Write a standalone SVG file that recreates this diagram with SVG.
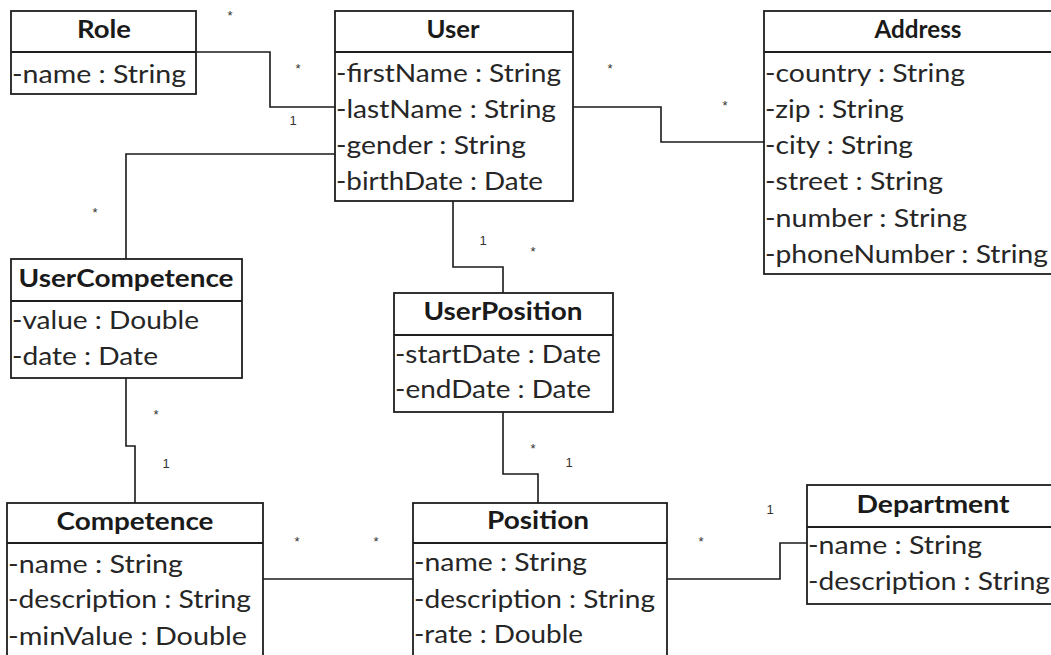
<svg xmlns="http://www.w3.org/2000/svg" width="1051" height="655" viewBox="0 0 1051 655">
  <style>
    .box { fill: #ffffff; stroke: #1e1e1e; stroke-width: 1.8; }
    .sep { stroke: #1e1e1e; stroke-width: 1.8; }
    .title { font-family: Lato, "Open Sans", sans-serif; font-weight: bold; font-size: 25px; fill: #1a1a1a; text-anchor: middle; }
    .attr { font-family: Lato, "Open Sans", sans-serif; font-size: 25px; fill: #262626; }
    .conn { fill: none; stroke: #1a1a1a; stroke-width: 1.6; }
    .mult { font-family: "Liberation Sans", Arial, sans-serif; font-size: 13px; fill: #333; text-anchor: middle; }
  </style>

  <!-- associations -->
  <g id="connectors">
    <path class="conn" d="M196 52 H270 V107 H335"/>
    <path class="conn" d="M573 107 H661 V142 H764"/>
    <path class="conn" d="M335 154 H126 V259"/>
    <path class="conn" d="M453 201 V267 H503 V293"/>
    <path class="conn" d="M126 378 V446 H135 V503"/>
    <path class="conn" d="M503 412 V474 H538 V503"/>
    <path class="conn" d="M263 579 H413"/>
    <path class="conn" d="M667 579 H780 V543 H807"/>
    <g id="multiplicities">
      <text class="mult" x="230" y="20">*</text>
      <text class="mult" x="298" y="73">*</text>
      <text class="mult" x="293" y="125">1</text>
      <text class="mult" x="95" y="217">*</text>
      <text class="mult" x="610" y="73">*</text>
      <text class="mult" x="725" y="110">*</text>
      <text class="mult" x="483" y="245">1</text>
      <text class="mult" x="533" y="256">*</text>
      <text class="mult" x="156" y="419">*</text>
      <text class="mult" x="166" y="468">1</text>
      <text class="mult" x="533" y="453">*</text>
      <text class="mult" x="569" y="467">1</text>
      <text class="mult" x="297" y="546">*</text>
      <text class="mult" x="376" y="546">*</text>
      <text class="mult" x="701" y="546">*</text>
      <text class="mult" x="770" y="514">1</text>
    </g>
  </g>

  <g id="Role">
    <rect class="box" x="11" y="11" width="185" height="83"/>
    <line class="sep" x1="11" y1="52" x2="196" y2="52"/>
    <text class="title" x="104" y="38" textLength="54" lengthAdjust="spacingAndGlyphs">Role</text>
    <text class="attr" x="12" y="83" textLength="174" lengthAdjust="spacingAndGlyphs">-name : String</text>
  </g>

  <g id="User">
    <rect class="box" x="335" y="11" width="238" height="190"/>
    <line class="sep" x1="335" y1="52" x2="573" y2="52"/>
    <text class="title" x="453" y="38" textLength="53" lengthAdjust="spacingAndGlyphs">User</text>
    <text class="attr" x="336" y="82" textLength="225" lengthAdjust="spacingAndGlyphs">-firstName : String</text>
    <text class="attr" x="336" y="118" textLength="220" lengthAdjust="spacingAndGlyphs">-lastName : String</text>
    <text class="attr" x="336" y="154" textLength="190" lengthAdjust="spacingAndGlyphs">-gender : String</text>
    <text class="attr" x="336" y="190" textLength="207" lengthAdjust="spacingAndGlyphs">-birthDate : Date</text>
  </g>

  <g id="Address">
    <rect class="box" x="764" y="11" width="310" height="263"/>
    <line class="sep" x1="764" y1="52" x2="1074" y2="52"/>
    <text class="title" x="918" y="38" textLength="87" lengthAdjust="spacingAndGlyphs">Address</text>
    <text class="attr" x="765" y="82" textLength="200" lengthAdjust="spacingAndGlyphs">-country : String</text>
    <text class="attr" x="765" y="118" textLength="139" lengthAdjust="spacingAndGlyphs">-zip : String</text>
    <text class="attr" x="765" y="154" textLength="148" lengthAdjust="spacingAndGlyphs">-city : String</text>
    <text class="attr" x="765" y="190" textLength="178" lengthAdjust="spacingAndGlyphs">-street : String</text>
    <text class="attr" x="765" y="227" textLength="202" lengthAdjust="spacingAndGlyphs">-number : String</text>
    <text class="attr" x="765" y="263" textLength="283" lengthAdjust="spacingAndGlyphs">-phoneNumber : String</text>
  </g>

  <g id="UserCompetence">
    <rect class="box" x="11" y="259" width="231" height="119"/>
    <line class="sep" x1="11" y1="301" x2="242" y2="301"/>
    <text class="title" x="126" y="287" textLength="215" lengthAdjust="spacingAndGlyphs">UserCompetence</text>
    <text class="attr" x="12" y="329" textLength="187" lengthAdjust="spacingAndGlyphs">-value : Double</text>
    <text class="attr" x="12" y="365" textLength="146" lengthAdjust="spacingAndGlyphs">-date : Date</text>
  </g>

  <g id="UserPosition">
    <rect class="box" x="394" y="293" width="219" height="119"/>
    <line class="sep" x1="394" y1="335" x2="613" y2="335"/>
    <text class="title" x="503" y="320" textLength="159" lengthAdjust="spacingAndGlyphs">UserPosition</text>
    <text class="attr" x="395" y="363" textLength="206" lengthAdjust="spacingAndGlyphs">-startDate : Date</text>
    <text class="attr" x="395" y="398" textLength="196" lengthAdjust="spacingAndGlyphs">-endDate : Date</text>
  </g>

  <g id="Competence">
    <rect class="box" x="7" y="503" width="256" height="160"/>
    <line class="sep" x1="7" y1="543" x2="263" y2="543"/>
    <text class="title" x="135" y="530" textLength="157" lengthAdjust="spacingAndGlyphs">Competence</text>
    <text class="attr" x="8" y="573" textLength="175" lengthAdjust="spacingAndGlyphs">-name : String</text>
    <text class="attr" x="8" y="608" textLength="243" lengthAdjust="spacingAndGlyphs">-description : String</text>
    <text class="attr" x="8" y="645" textLength="239" lengthAdjust="spacingAndGlyphs">-minValue : Double</text>
  </g>

  <g id="Position">
    <rect class="box" x="413" y="503" width="254" height="160"/>
    <line class="sep" x1="413" y1="543" x2="667" y2="543"/>
    <text class="title" x="538" y="529" textLength="102" lengthAdjust="spacingAndGlyphs">Position</text>
    <text class="attr" x="414" y="571" textLength="173" lengthAdjust="spacingAndGlyphs">-name : String</text>
    <text class="attr" x="414" y="608" textLength="241" lengthAdjust="spacingAndGlyphs">-description : String</text>
    <text class="attr" x="414" y="643" textLength="169" lengthAdjust="spacingAndGlyphs">-rate : Double</text>
  </g>

  <g id="Department">
    <rect class="box" x="807" y="485" width="252" height="119"/>
    <line class="sep" x1="807" y1="527" x2="1059" y2="527"/>
    <text class="title" x="933" y="513" textLength="153" lengthAdjust="spacingAndGlyphs">Department</text>
    <text class="attr" x="808" y="554" textLength="174" lengthAdjust="spacingAndGlyphs">-name : String</text>
    <text class="attr" x="808" y="590" textLength="242" lengthAdjust="spacingAndGlyphs">-description : String</text>
  </g>
</svg>
